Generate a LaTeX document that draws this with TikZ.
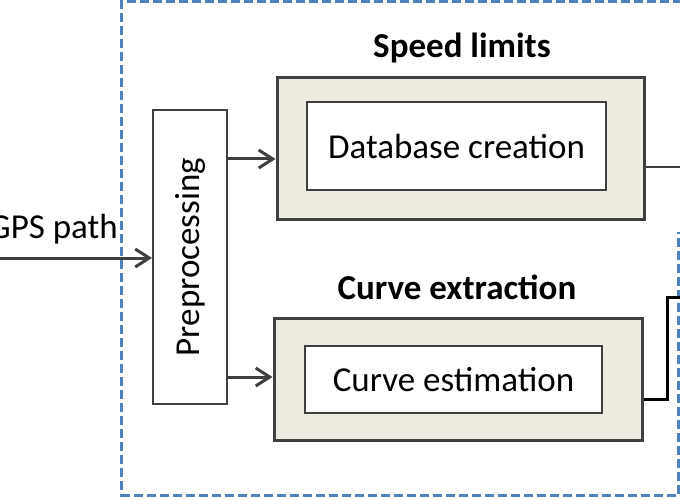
\documentclass[tikz,border=0pt]{standalone}
\usepackage{fontspec}
\setmainfont{Carlito}
\usetikzlibrary{arrows.meta}
\definecolor{frameblue}{HTML}{4F81BD}
\definecolor{boxgray}{HTML}{404040}
\definecolor{panelfill}{HTML}{EEEBE0}
\tikzset{
  panelbox/.style={draw=boxgray,line width=3pt,fill=panelfill,inner sep=0pt},
  stagebox/.style={draw=boxgray,line width=2pt,fill=white,inner sep=0pt,
    font=\fontsize{35}{40}\selectfont},
  paneltitle/.style={font=\fontsize{35}{40}\selectfont\bfseries,inner sep=0pt},
  flow/.style={draw=boxgray,line width=3pt,-{Straight Barb[length=14pt,width=18pt]}},
  frame/.style={draw=frameblue,line width=3pt,dash pattern=on 9pt off 4pt}
}
\begin{document}
\begin{tikzpicture}[x=1pt,y=-1pt]
  \useasboundingbox (0,0) rectangle (680,500);
  \clip (0,0) rectangle (680,500);
  % dashed frame
  \draw[frame] (682,1.5) -- (121.5,1.5) -- (121.5,495) -- (678,495) -- (678,232);
  % input and preprocessing
  \node[anchor=base east,inner sep=0pt,font=\fontsize{35}{40}\selectfont] (gps) at (118,238) {GPS path};
  \coordinate (gpsin) at (0,258);
  \node[stagebox,minimum width=74pt,minimum height=294pt] (prep) at (190,257) {};
  \node[rotate=90,inner sep=0pt,font=\fontsize{35}{40}\selectfont] (preplabel) at (prep.center) {Preprocessing};
  % speed limits
  \node[panelbox,minimum width=367pt,minimum height=141pt] (speed) at (460.5,148.5) {};
  \node[stagebox,minimum width=299pt,minimum height=88pt] (dbcreate) at (456.5,146) {Database creation};
  \node[paneltitle] (speedtitle) at (462,48) {Speed limits};
  % curve extraction
  \node[panelbox,minimum width=368pt,minimum height=122pt] (curve) at (458,379) {};
  \node[stagebox,minimum width=297pt,minimum height=67pt] (curveest) at (453.5,379.5) {Curve estimation};
  \node[paneltitle] (curvetitle) at (457,287) {Curve extraction};
  % connectors
  \draw[flow] (gpsin) -- (prep.west |- gpsin);
  \draw[flow] (prep.east |- 0,159) -- (speed.west |- 0,159);
  \draw[flow] (prep.east |- 0,377) -- (curve.west |- 0,377);
  \coordinate (speedout) at (682,167);
  \coordinate (curveout) at (682,297);
  \draw[boxgray,line width=2pt] (speed.east |- speedout) -- (speedout);
  \draw[black,line width=3pt] (curve.east |- 0,399) -- (667,399) -- (667,297) -- (curveout);
\end{tikzpicture}
\end{document}
